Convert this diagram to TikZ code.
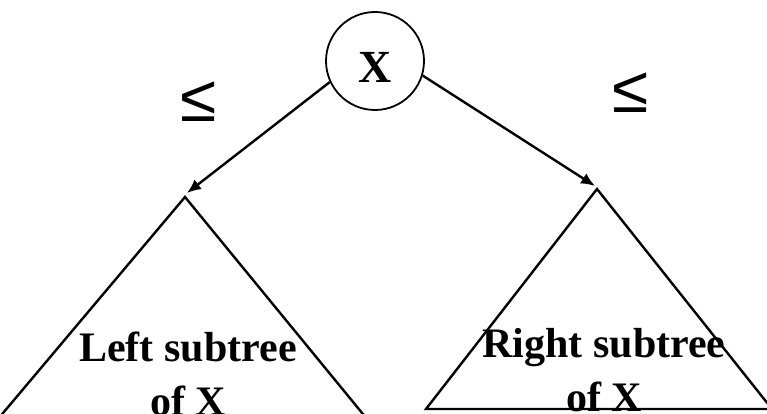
\documentclass[tikz,border=0pt]{standalone}
\usepackage{fontspec}
\setmainfont{Liberation Serif}
\newfontfamily\symfont{Liberation Sans}
\usetikzlibrary{positioning, arrows.meta}

\begin{document}
\begin{tikzpicture}[x=1pt,y=1pt,
        key/.style={draw,line width=1.8pt,circle,minimum size=98pt,inner sep=0pt,
                    font=\fontsize{46}{48}\selectfont\bfseries},
        rel/.style={font=\symfont\fontsize{66}{70}\selectfont},
        label/.style={align=center,anchor=base,
                      font=\fontsize{42}{54}\selectfont\bfseries},
        edge/.style={line width=2.4pt},
        arrow/.style={-{Latex[length=14pt,width=12pt]},line width=2.4pt}]
    \useasboundingbox (0,0) rectangle (767,414);
    \node[key] (x) at (375,353) {\raisebox{-7pt}[30pt][0pt]{X}};
    \node[rel] (le1) at (199,312) {≤};
    \node[rel] (le2) at (631,321) {≤};
    % left subtree
    \coordinate (ltop) at (185,217);
    \coordinate (ltip) at (187,221);
    \draw[edge] (-2,-5) -- (ltop) -- (367,-5);
    \node[label] (ltext) at (188,-2) {Left subtree\\of X};
    % right subtree
    \coordinate (rtop) at (597,225);
    \coordinate (rtip) at (595,228);
    \draw[edge] (426,5) -- (rtop) -- (772,5) -- cycle;
    \node[label] (rtext) at (604,2) {Right subtree\\of X};
    \draw[arrow] (x.205) -- (ltip);
    \draw[arrow] (x.343) -- (rtip);
\end{tikzpicture}
\end{document}
